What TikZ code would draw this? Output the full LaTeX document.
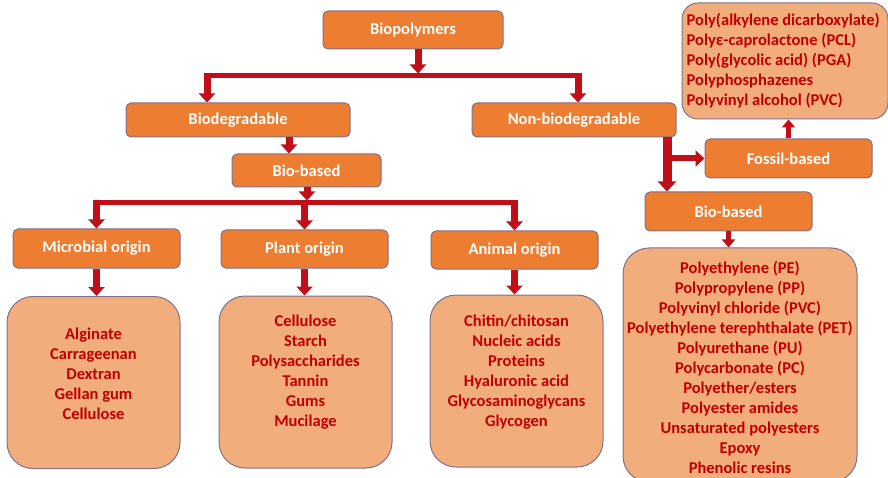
\documentclass[tikz,border=0pt]{standalone}
\usepackage{fontspec}
\setmainfont{Carlito}
\usetikzlibrary{arrows.meta}
\definecolor{boxorange}{HTML}{ED7D31}
\definecolor{boxedge}{RGB}{128,112,140}
\definecolor{listfill}{HTML}{F2AD7C}
\definecolor{itemred}{HTML}{C00000}
\definecolor{arrowred}{HTML}{C00F19}

\begin{document}
\begin{tikzpicture}[x=1pt, y=-1pt,
    catbox/.style={draw=boxedge, line width=1pt, fill=boxorange, rounded corners=5pt,
      text=white, font=\bfseries\fontsize{16.5}{19}\selectfont, inner sep=0pt},
    listbox/.style={draw=boxedge, line width=1pt, fill=listfill, rounded corners=26pt},
    items/.style={text=itemred, font=\bfseries\fontsize{16.5}{20}\selectfont, align=center, inner sep=0pt},
    blockarrow/.style={arrowred, line width=7pt, -{Triangle[width=16pt,length=9pt]}},
    bar/.style={arrowred, line width=5pt}]
    \useasboundingbox (0,0) rectangle (888,478);

    % main categories
    \node[catbox, minimum width=180pt, minimum height=38pt] (bio) at (413,30) {Biopolymers};
    \node[catbox, minimum width=224pt, minimum height=34pt] (bdg) at (238,120) {Biodegradable};
    \node[catbox, minimum width=204pt, minimum height=34pt] (nbd) at (574,120) {Non-biodegradable};
    \node[catbox, minimum width=149pt, minimum height=33pt] (bbl) at (306.5,170.5) {Bio-based};

    % origins
    \node[catbox, minimum width=167pt, minimum height=39pt] (mic) at (96.5,248.5) {Microbial origin};
    \node[catbox, minimum width=167pt, minimum height=38pt] (pla) at (304.5,249) {Plant origin};
    \node[catbox, minimum width=167pt, minimum height=38pt] (ani) at (514.5,250) {Animal origin};

    % non-biodegradable branch
    \node[catbox, minimum width=167pt, minimum height=39pt] (fos) at (788.5,158.5) {Fossil-based};
    \node[catbox, minimum width=167pt, minimum height=39pt] (bbr) at (728.5,211.5) {Bio-based};

    % lists of polymers
    \node[listbox, minimum width=173pt, minimum height=172pt] (lmic) at (93.5,382.5) {};
    \node[listbox, minimum width=173pt, minimum height=172pt] (lpla) at (305.5,382) {};
    \node[listbox, minimum width=173pt, minimum height=172pt] (lani) at (516.5,381) {};
    \node[listbox, minimum width=206pt, minimum height=116pt, rounded corners=16pt] (lfos) at (785,61) {};
    \node[listbox, minimum width=234pt, minimum height=234pt] (lbbr) at (740,365) {};

    \node[items] (imic) at ([yshift=9pt]lmic.center) {Alginate\\Carrageenan\\Dextran\\Gellan gum\\Cellulose};
    \node[items] (ipla) at ([yshift=10pt]lpla.center) {Cellulose\\Starch\\Polysaccharides\\Tannin\\Gums\\Mucilage};
    \node[items] (iani) at ([yshift=9pt]lani.center) {Chitin/chitosan\\Nucleic acids\\Proteins\\Hyaluronic acid\\Glycosaminoglycans\\Glycogen};
    \node[items, align=left, anchor=west] (ifos) at ([xshift=5pt]lfos.west) {Poly(alkylene dicarboxylate)\\Polyε-caprolactone (PCL)\\Poly(glycolic acid) (PGA)\\Polyphosphazenes\\Polyvinyl alcohol (PVC)};
    \node[items] (ibbr) at ([yshift=-2pt]lbbr.center) {Polyethylene (PE)\\Polypropylene (PP)\\Polyvinyl chloride (PVC)\\Polyethylene terephthalate (PET)\\Polyurethane (PU)\\Polycarbonate (PC)\\Polyether/esters\\Polyester amides\\Unsaturated polyesters\\Epoxy\\Phenolic resins};

    % first split
    \coordinate (s1) at (418,76);
    \coordinate (s1l) at (207,76);
    \coordinate (s1r) at (578,76);
    \draw[blockarrow] (bio.south -| s1) -- ([yshift=2.5pt]s1);
    \draw[bar] (s1l) -- (s1r);
    \draw[blockarrow, shorten <=-2.5pt] (s1l) -- (s1l |- bdg.north);
    \draw[blockarrow, shorten <=-2.5pt] (s1r) -- (s1r |- nbd.north);

    % biodegradable -> bio-based
    \coordinate (a2) at (289,0);
    \draw[blockarrow] (bdg.south -| a2) -- (bbl.north -| a2);

    % second split into origins
    \coordinate (s2) at (307,203);
    \draw[blockarrow] (bbl.south -| s2) -- ([yshift=2.5pt]s2);
    \draw[bar] (s2 -| mic.north) -- (s2 -| ani.north);
    \foreach \n in {mic,pla,ani} {
        \draw[blockarrow, shorten <=-2.5pt] (s2 -| \n.north) -- (\n.north);
        \draw[blockarrow] (\n.south) -- (\n.south |- l\n.north);
    }

    % non-biodegradable -> fossil-based / bio-based
    \coordinate (v) at (667,0);
    \draw[blockarrow, line width=9pt, -{Triangle[width=18pt,length=10pt]}] (nbd.south -| v) -- (bbr.north -| v);
    \draw[blockarrow, line width=6pt] (v |- fos.west) -- (fos.west);
    \draw[blockarrow, line width=5pt, -{Triangle[width=13pt,length=8pt]}] (fos.north) -- (fos.north |- lfos.south);
    \draw[blockarrow, line width=5pt, -{Triangle[width=13pt,length=8pt]}] (bbr.south) -- (bbr.south |- lbbr.north);
\end{tikzpicture}
\end{document}
